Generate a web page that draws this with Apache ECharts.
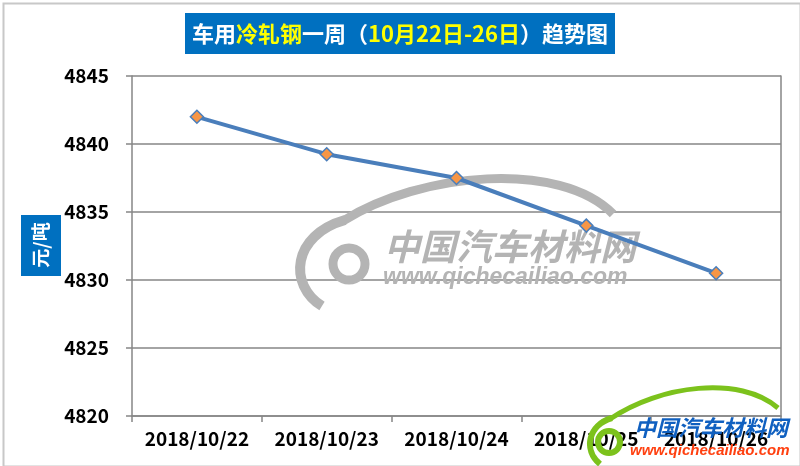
<!DOCTYPE html>
<html>
<head>
<meta charset="utf-8">
<script src="https://cdn.jsdelivr.net/npm/echarts@6/dist/echarts.min.js"></script>
<style>
html,body{margin:0;padding:0;background:#fff;}
#c{width:800px;height:466px;}
</style>
</head>
<body>
<div id="c"></div>
<script>
var categories = ['2018/10/22', '2018/10/23', '2018/10/24', '2018/10/25', '2018/10/26'];
var prices = [4842, 4839.25, 4837.5, 4834, 4830.5];
var yTicks = [4820, 4825, 4830, 4835, 4840, 4845];

var FONT = '"Noto Sans CJK SC", "Liberation Sans", sans-serif';
var GRAY = '#868686';
var WM = '#b4b4b4';
var chart = echarts.init(document.getElementById('c'), null, {renderer: 'canvas'});
chart.setOption({
  backgroundColor: '#ffffff',
  animation: false,
  grid: {left: 132, right: 19, top: 76, bottom: 50, containLabel: false},
  xAxis: {
    type: 'category',
    data: categories,
    boundaryGap: true,
    axisLine: {lineStyle: {color: GRAY, width: 1.5}},
    axisTick: {show: true, length: 6, lineStyle: {color: GRAY, width: 1.5}},
    axisLabel: {color: '#000', fontWeight: 'bold', fontSize: 19, fontFamily: FONT, margin: 13,
                interval: 0, hideOverlap: false}
  },
  yAxis: [{
    type: 'value',
    min: yTicks[0],
    max: yTicks[yTicks.length - 1],
    interval: 5,
    axisLine: {show: true, lineStyle: {color: GRAY, width: 1.5}},
    axisTick: {show: true, length: 6, lineStyle: {color: GRAY, width: 1.5}},
    splitLine: {show: true, lineStyle: {color: GRAY, width: 1.5}},
    axisLabel: {color: '#000', fontWeight: 'bold', fontSize: 19, fontFamily: FONT, margin: 23,
                formatter: function (v) { return String(v); }}
  }, {
    type: 'value',
    position: 'right',
    min: yTicks[0],
    max: yTicks[yTicks.length - 1],
    interval: 5,
    axisLine: {show: true, lineStyle: {color: GRAY, width: 1.5}},
    axisTick: {show: false},
    splitLine: {show: false},
    axisLabel: {show: false}
  }],
  graphic: [
    {type: 'rect', left: 1, top: 1, z: -10, silent: true,
     shape: {width: 797, height: 463}, style: {fill: 'none', stroke: '#c8c8c8', lineWidth: 2}},
    {type: 'rect', left: 185, top: 13, z: 10,
     shape: {width: 430, height: 41}, style: {fill: '#0070c0'}},
    {type: 'text', x: 400, y: 34, z: 11,
     style: {
       text: '{w|车用}{y|冷轧钢}{w|一周（}{y|10月22日-26日}{w|）趋势图}',
       align: 'center', verticalAlign: 'middle',
       rich: {
         w: {fill: '#ffffff', fontSize: 22, fontWeight: 'bold', fontFamily: FONT},
         y: {fill: '#ffff00', fontSize: 22, fontWeight: 'bold', fontFamily: FONT}
       }
     }},
    {type: 'rect', left: 21, top: 215, z: 10,
     shape: {width: 40, height: 61}, style: {fill: '#0070c0'}},
    {type: 'text', x: 41, y: 245, rotation: Math.PI / 2, z: 11,
     style: {text: '元/吨', fill: '#fff', fontSize: 19, fontWeight: 'bold', fontFamily: FONT,
             align: 'center', verticalAlign: 'middle'}},
    // watermark (centre)
    {type: 'bezierCurve', z: 1, silent: true,
     shape: {x1: 322, y1: 306, cpx1: 288, cpy1: 285, cpx2: 292, cpy2: 235, x2: 345, y2: 220},
     style: {stroke: WM, lineWidth: 10, fill: 'none'}},
    {type: 'bezierCurve', z: 1, silent: true,
     shape: {x1: 343, y1: 221, cpx1: 420, cpy1: 172, cpx2: 560, cpy2: 160, x2: 613, y2: 214},
     style: {stroke: WM, lineWidth: 9, fill: 'none'}},
    {type: 'circle', z: 1, silent: true, shape: {cx: 349, cy: 264, r: 16},
     style: {stroke: WM, lineWidth: 9, fill: 'none'}},
    {type: 'text', x: 384, y: 246, z: 1, silent: true,
     style: {text: '中国汽车材料网', fill: WM, fontSize: 36, fontWeight: 'bold', fontStyle: 'italic',
             fontFamily: FONT, verticalAlign: 'middle'}},
    {type: 'text', x: 383, y: 278, z: 1, silent: true,
     style: {text: 'www.qichecailiao.com', fill: WM, fontSize: 23, fontWeight: 'bold', fontStyle: 'italic',
             fontFamily: '"Liberation Sans", sans-serif', verticalAlign: 'middle'}},
    // logo (bottom right)
    {type: 'bezierCurve', z: 20, silent: true,
     shape: {x1: 600, y1: 464, cpx1: 583, cpy1: 450, cpx2: 588, cpy2: 425, x2: 612, y2: 418},
     style: {stroke: '#7cc21c', lineWidth: 6, fill: 'none'}},
    {type: 'bezierCurve', z: 20, silent: true,
     shape: {x1: 610, y1: 419, cpx1: 660, cpy1: 385, cpx2: 740, cpy2: 375, x2: 778, y2: 408},
     style: {stroke: '#7cc21c', lineWidth: 5, fill: 'none'}},
    {type: 'circle', z: 20, silent: true, shape: {cx: 609, cy: 442, r: 11},
     style: {stroke: '#7cc21c', lineWidth: 6, fill: 'none'}},
    {type: 'text', x: 634, y: 428, z: 21, silent: true,
     style: {text: '中国汽车材料网', fill: '#1060c0', fontSize: 22, fontWeight: 'bold', fontStyle: 'italic',
             fontFamily: FONT, verticalAlign: 'middle'}},
    {type: 'text', x: 630, y: 451, z: 21, silent: true,
     style: {text: 'www.qichecailiao.com', fill: '#ff4010', fontSize: 15, fontWeight: 'bold', fontStyle: 'italic',
             fontFamily: '"Liberation Sans", sans-serif', verticalAlign: 'middle'}}
  ],
  series: [{
    type: 'line',
    data: prices,
    yAxisIndex: 0,
    z: 5,
    symbol: 'diamond',
    symbolSize: 13,
    lineStyle: {color: '#4a7ebb', width: 4},
    itemStyle: {color: '#f79646', borderColor: '#4a7ebb', borderWidth: 1.5}
  }]
});
</script>
</body>
</html>
